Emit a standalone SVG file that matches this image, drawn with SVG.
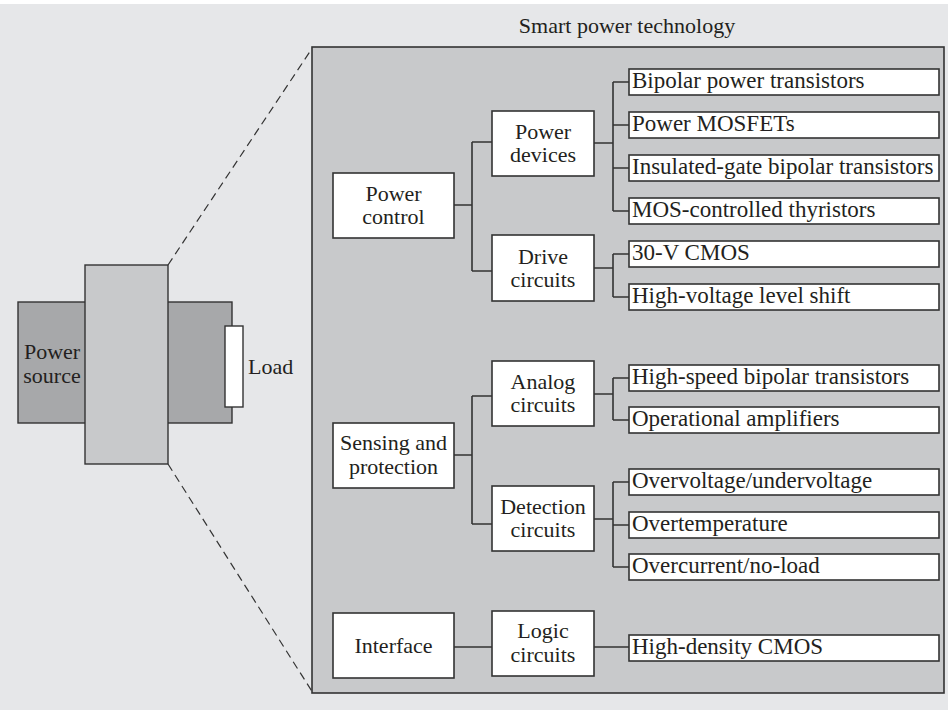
<svg xmlns="http://www.w3.org/2000/svg" width="948" height="710" viewBox="0 0 948 710">
<style>
text{font-family:"Liberation Serif","Times New Roman",serif;font-size:22px;fill:#231f20}
.c{text-anchor:middle}
.lt{font-size:23px}
.box{fill:#fff;stroke:#333;stroke-width:1.6}
.leaf{fill:#fff;stroke:#333;stroke-width:1.6}
.conn{fill:none;stroke:#333;stroke-width:1.6}
</style>
<rect x="0" y="0" width="948" height="710" fill="#fff"/>
<rect x="0" y="4" width="948" height="706" fill="#e6e7e9"/>

<g id="source">
<rect x="18" y="302" width="214" height="121" fill="#a7a8aa" stroke="#333" stroke-width="1.4"/>
<text class="c" x="52" y="359">Power</text>
<text class="c" x="52" y="383">source</text>
</g>
<g id="chip">
<rect x="85" y="265" width="83" height="199" fill="#c8c9cb" stroke="#333" stroke-width="1.4"/>
</g>
<g id="load">
<rect x="225" y="326" width="18" height="81" fill="#fff" stroke="#333" stroke-width="1.4"/>
<text x="248" y="374">Load</text>
</g>

<g id="zoomlines" fill="none" stroke="#333" stroke-width="1.2" stroke-dasharray="8,5">
<line x1="168" y1="265" x2="313" y2="47"/>
<line x1="168" y1="464" x2="313" y2="693"/>
</g>

<g id="panel">
<rect x="312" y="47" width="632" height="646" fill="#c8c9cb" stroke="#333" stroke-width="1.6"/>
<text class="c" x="627" y="33">Smart power technology</text>
</g>

<g id="connectors" class="conn">
<path class="conn" d="M454 205H472M472 142V271M472 142H492M472 271H492"/>
<path class="conn" d="M594 143H613M613 82V211M613 82H629M613 125H629M613 168H629M613 211H629"/>
<path class="conn" d="M594 268H613M613 254V297M613 254H629M613 297H629"/>
<path class="conn" d="M454 455H472M472 396V524M472 396H492M472 524H492"/>
<path class="conn" d="M594 394H613M613 378V420M613 378H629M613 420H629"/>
<path class="conn" d="M594 519H613M613 482V567M613 482H629M613 525H629M613 567H629"/>
<path class="conn" d="M454 647H492M594 647H629"/>
</g>

<g id="power-control"><rect class="box" x="333" y="173" width="121" height="65"/><text class="c" x="393.5" y="201">Power</text><text class="c" x="393.5" y="224">control</text></g>
<g id="power-devices"><rect class="box" x="492" y="111" width="102" height="65"/><text class="c" x="543" y="139">Power</text><text class="c" x="543" y="162">devices</text></g>
<g id="drive-circuits"><rect class="box" x="492" y="235" width="102" height="66"/><text class="c" x="543" y="264">Drive</text><text class="c" x="543" y="287">circuits</text></g>

<g id="bipolar"><rect class="leaf" x="629" y="69" width="310" height="26"/><text class="lt" x="632" y="88">Bipolar power transistors</text></g>
<g id="mosfets"><rect class="leaf" x="629" y="112" width="310" height="26"/><text class="lt" x="632" y="131">Power MOSFETs</text></g>
<g id="igbt"><rect class="leaf" x="629" y="155" width="310" height="26"/><text class="lt" x="632" y="174">Insulated-gate bipolar transistors</text></g>
<g id="mct"><rect class="leaf" x="629" y="198" width="310" height="26"/><text class="lt" x="632" y="217">MOS-controlled thyristors</text></g>
<g id="cmos30"><rect class="leaf" x="629" y="241" width="310" height="26"/><text class="lt" x="632" y="260">30-V CMOS</text></g>
<g id="hvls"><rect class="leaf" x="629" y="284" width="310" height="26"/><text class="lt" x="632" y="303">High-voltage level shift</text></g>

<g id="sensing"><rect class="box" x="333" y="423" width="121" height="65"/><text class="c" x="393.5" y="450">Sensing and</text><text class="c" x="393.5" y="474">protection</text></g>
<g id="analog"><rect class="box" x="492" y="361" width="102" height="65"/><text class="c" x="543" y="389">Analog</text><text class="c" x="543" y="412">circuits</text></g>
<g id="detection"><rect class="box" x="492" y="486" width="102" height="65"/><text class="c" x="543" y="514">Detection</text><text class="c" x="543" y="537">circuits</text></g>

<g id="hsbt"><rect class="leaf" x="629" y="365" width="310" height="26"/><text class="lt" x="632" y="384">High-speed bipolar transistors</text></g>
<g id="opamp"><rect class="leaf" x="629" y="407" width="310" height="26"/><text class="lt" x="632" y="426">Operational amplifiers</text></g>
<g id="ovuv"><rect class="leaf" x="629" y="469" width="310" height="26"/><text class="lt" x="632" y="488">Overvoltage/undervoltage</text></g>
<g id="overtemp"><rect class="leaf" x="629" y="512" width="310" height="26"/><text class="lt" x="632" y="531">Overtemperature</text></g>
<g id="overcurrent"><rect class="leaf" x="629" y="554" width="310" height="26"/><text class="lt" x="632" y="573">Overcurrent/no-load</text></g>

<g id="interface"><rect class="box" x="333" y="613" width="121" height="65"/><text class="c" x="393.5" y="653">Interface</text></g>
<g id="logic"><rect class="box" x="492" y="611" width="102" height="65"/><text class="c" x="543" y="638">Logic</text><text class="c" x="543" y="662">circuits</text></g>
<g id="hdcmos"><rect class="leaf" x="629" y="635" width="310" height="26"/><text class="lt" x="632" y="654">High-density CMOS</text></g>
</svg>
